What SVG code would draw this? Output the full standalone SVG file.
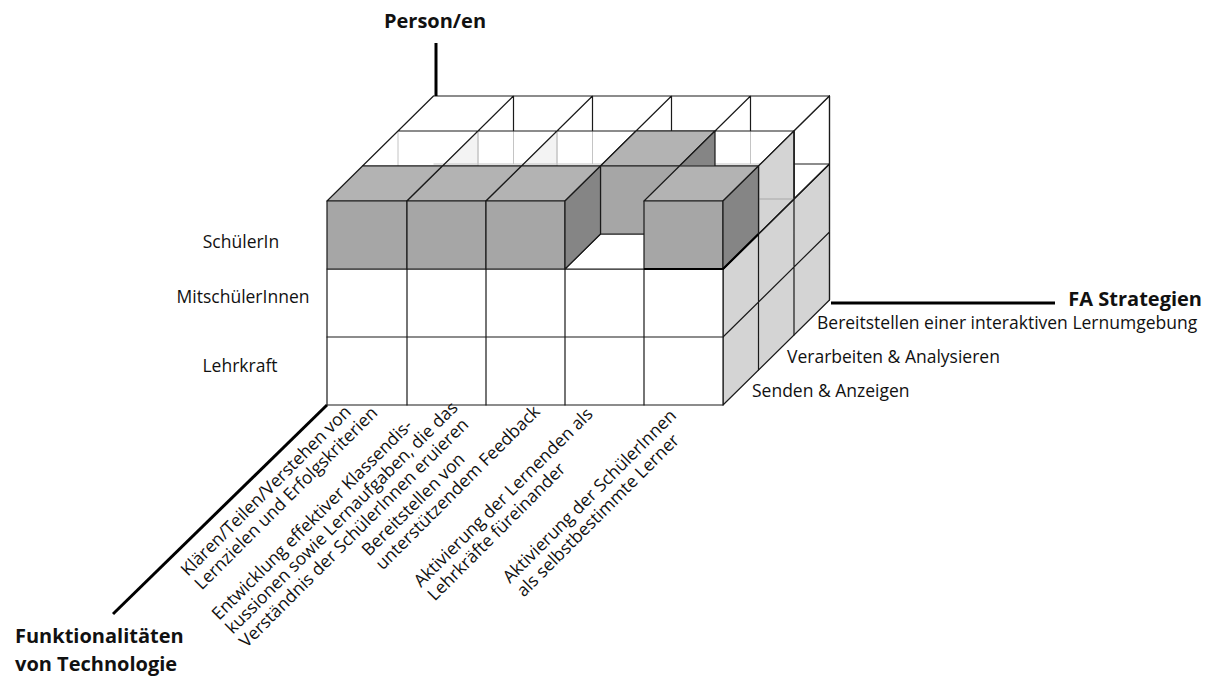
<svg xmlns="http://www.w3.org/2000/svg" width="1213" height="678" viewBox="0 0 1213 678">
<style>
 .e{stroke:#1a1a1a;stroke-width:1.2;stroke-linejoin:round}
 .ln{stroke:#1a1a1a;stroke-width:1.2;fill:none;stroke-linecap:round}
 .f{stroke:#c4c4c4;stroke-width:1;fill:none}
 .gf{fill:#a6a6a6}
 .gt{fill:#b3b3b3}
 .gs{fill:#858585}
 .ls{fill:#d4d4d4}
 .w{fill:#ffffff}
 .ax{stroke:#000;stroke-width:3;fill:none}
 text{font-family:"Open Sans","Liberation Sans",sans-serif;fill:#111}
 .lbl{font-size:17.5px}
 .ttl{font-size:20px;font-weight:bold}
</style>
<rect width="1213" height="678" fill="#fff"/>

<g id="cube">
  <g id="hidden-lines" class="f">
    <polygon points="442.5,166 478,131 478,166" fill="#f3f3f3"/>
    <polygon points="521.5,166 557,131 557,166" fill="#f3f3f3"/>
    <path d="M398 131V166 M478 131V166 M557 131V166 M513.5 131V164 M592.5 131V164 M750.5 131V164 M433.5 164H794"/>
  </g>
  <g id="back-layer">
    <path class="ln" d="M433.5 96H829.5 M398 131H794 M362.5 166H758.5 M398 131L433.5 96 M478 131L513.5 96 M557 131L592.5 96 M636 131L671.5 96 M715 131L750.5 96 M794 131L829.5 96 M513.5 96V131 M592.5 96V131 M671.5 96V131 M750.5 96V131 M362.5 166L398 131 M442.5 166L478 131 M521.5 166L557 131 M600.5 166L636 131 M679.5 166L715 131 M758.5 166L794 131"/>
    <polygon class="w e" points="794,131 829.5,96 829.5,164 794,199"/>
    <path class="ln" d="M794 164H829.5"/>
  </g>
  <g id="right-side">
    <polygon class="ls e" points="723,269 829.5,164 829.5,300 723,405"/>
    <polygon class="ls e" points="758.5,166 794,131 794,199 758.5,234"/>
    <path d="M758.5 199H794" stroke="#a8a8a8" stroke-width="1" fill="none"/>
    <path class="ln" d="M758.5 166V370 M794 131V335 M723 337L829.5 232 M723 269L829.5 164 M829.5 96V300"/>
  </g>
  <g id="lower-rows">
    <rect class="w e" x="327" y="269" width="396" height="136"/>
    <path class="ln" d="M407 269V405 M486 269V405 M565 269V405 M644 269V405 M327 337H723"/>
    <polygon class="w e" points="565,269 644,269 679.5,234 600.5,234"/>
  </g>
  <g id="middle-cube">
    <polygon class="gt e" points="600.5,166 679.5,166 715,131 636,131"/>
    <rect class="gf e" x="600.5" y="166" width="79" height="68"/>
    <polygon class="gs e" points="679.5,166 715,131 715,199 679.5,234"/>
  </g>
  <g id="front-cubes">
    <polygon class="gt e" points="327,201 407,201 442.5,166 362.5,166"/>
    <rect class="gf e" x="327" y="201" width="80" height="68"/>
    <polygon class="gt e" points="407,201 486,201 521.5,166 442.5,166"/>
    <rect class="gf e" x="407" y="201" width="79" height="68"/>
    <polygon class="gt e" points="486,201 565,201 600.5,166 521.5,166"/>
    <rect class="gf e" x="486" y="201" width="79" height="68"/>
    <polygon class="gs e" points="565,201 600.5,166 600.5,234 565,269"/>
    <polygon class="gt e" points="644,201 723,201 758.5,166 679.5,166"/>
    <rect class="gf e" x="644" y="201" width="79" height="68"/>
    <polygon class="gs e" points="723,201 758.5,166 758.5,234 723,269"/>
    <path d="M644 269H723L758.5 234" stroke="#000" stroke-width="2.2" fill="none"/>
  </g>
</g>

<g id="axes">
  <path class="ax" d="M436 43V96"/>
  <path class="ax" d="M831 303H1055"/>
  <path class="ax" d="M327 405L113 614"/>
</g>

<g id="axis-titles">
  <text id="t-person" class="ttl" x="435" y="28" text-anchor="middle">Person/en</text>
  <text id="t-fa" class="ttl" x="1202" y="306" text-anchor="end">FA Strategien</text>
  <text id="t-funk1" class="ttl" x="15" y="643">Funktionalitäten</text>
  <text id="t-funk2" class="ttl" x="15" y="671">von Technologie</text>
</g>

<g id="row-labels">
  <text class="lbl" x="241" y="248" text-anchor="middle">SchülerIn</text>
  <text class="lbl" x="243" y="303" text-anchor="middle">MitschülerInnen</text>
  <text class="lbl" x="240" y="372" text-anchor="middle">Lehrkraft</text>
</g>

<g id="strategy-labels">
  <text class="lbl" x="817" y="329">Bereitstellen einer interaktiven Lernumgebung</text>
  <text class="lbl" x="787" y="363">Verarbeiten &amp; Analysieren</text>
  <text class="lbl" x="752" y="397">Senden &amp; Anzeigen</text>
</g>

<g id="function-labels">
  <text class="lbl" transform="translate(188 577) rotate(-45)"><tspan x="0" y="0">Klären/Teilen/Verstehen von</tspan><tspan x="0" y="19.5">Lernzielen und Erfolgskriterien</tspan></text>
  <text class="lbl" transform="translate(219 621) rotate(-45)"><tspan x="0" y="0">Entwicklung effektiver Klassendis-</tspan><tspan x="0" y="19.5">kussionen sowie Lernaufgaben, die das</tspan><tspan x="0" y="39">Verständnis der SchülerInnen eruieren</tspan></text>
  <text class="lbl" transform="translate(369 557) rotate(-45)"><tspan x="0" y="0">Bereitstellen von</tspan><tspan x="0" y="19.5">unterstützendem Feedback</tspan></text>
  <text class="lbl" transform="translate(421 588) rotate(-45)"><tspan x="0" y="0">Aktivierung der Lernenden als</tspan><tspan x="0" y="19.5">Lehrkräfte füreinander</tspan></text>
  <text class="lbl" transform="translate(510 584) rotate(-45)"><tspan x="0" y="0">Aktivierung der SchülerInnen</tspan><tspan x="0" y="19.5">als selbstbestimmte Lerner</tspan></text>
</g>
</svg>
